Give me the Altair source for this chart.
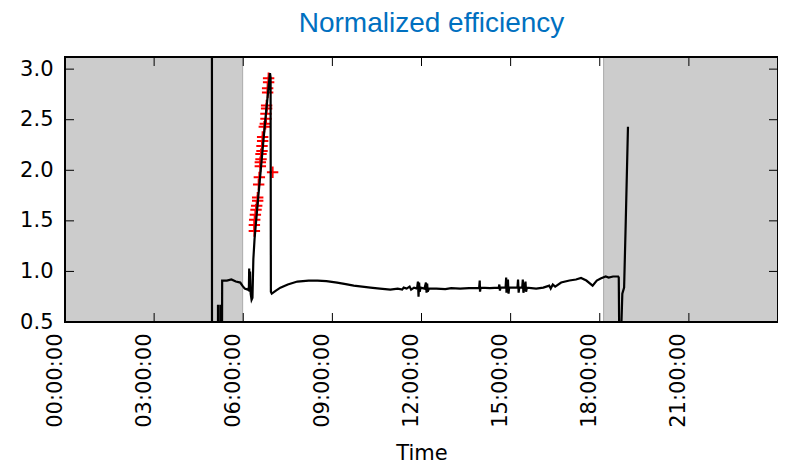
import altair as alt
import pandas as pd

# ---- data ----
hours = [4.94, 4.95, 5.14, 5.15, 5.16, 5.22, 5.23, 5.24, 5.27, 5.29, 5.45, 5.6, 5.75, 5.9, 5.97,
         6.05, 6.15, 6.19, 6.20, 6.21, 6.23, 6.25, 6.28, 6.31, 6.34, 6.38, 6.50, 6.62, 6.75, 6.90,
         6.92, 6.93, 6.96, 7.1, 7.25, 7.5, 7.82, 8.2, 8.5, 8.8, 9.16, 9.45, 9.72, 10.0, 10.28,
         10.6, 10.95, 11.2, 11.35, 11.4, 11.5, 11.6, 11.65, 11.75, 11.85, 11.88, 11.90, 11.92, 11.94,
         11.97, 12.1, 12.15, 12.17, 12.19, 12.21, 12.25, 12.5, 12.8, 13.0, 13.3, 13.6, 13.94, 13.96,
         13.97, 13.99, 14.3, 14.6, 14.62, 14.64, 14.66, 14.83, 14.85, 14.86, 14.88, 14.91, 14.93, 14.95,
         15.23, 15.25, 15.27, 15.29, 15.39, 15.41, 15.43, 15.47, 15.50, 15.52, 15.55, 15.86, 16.1,
         16.3, 16.35, 16.42, 16.5, 16.7, 16.98, 17.2, 17.37, 17.55, 17.76, 17.9, 18.03, 18.2, 18.3,
         18.45, 18.62, 18.64, 18.66, 18.70, 18.76, 18.82, 18.87, 18.95]
efficiency = [10.0, -2.0, -2.0, 0.67, -2.0, -2.0, 0.67, -2.0, -2.0, 0.91, 0.91, 0.92, 0.90, 0.89, 0.86,
              0.83, 0.82, 0.84, 1.03, 0.80, 1.00, 0.78, 0.72, 0.74, 1.12, 1.32, 1.72, 2.10, 2.52, 2.96,
              2.92, 0.80, 0.78, 0.81, 0.84, 0.87, 0.90, 0.91, 0.91, 0.905, 0.89, 0.875, 0.86, 0.85, 0.84,
              0.83, 0.82, 0.83, 0.82, 0.84, 0.83, 0.85, 0.82, 0.84, 0.83, 0.90, 0.75, 0.89, 0.80,
              0.84, 0.83, 0.89, 0.79, 0.88, 0.80, 0.83, 0.83, 0.825, 0.835, 0.83, 0.835, 0.835, 0.91,
              0.80, 0.84, 0.835, 0.84, 0.87, 0.81, 0.84, 0.84, 0.94, 0.79, 0.85, 0.92, 0.78, 0.84,
              0.84, 0.92, 0.79, 0.84, 0.84, 0.92, 0.79, 0.84, 0.90, 0.80, 0.84, 0.83, 0.84,
              0.86, 0.83, 0.87, 0.85, 0.89, 0.91, 0.92, 0.935, 0.91, 0.86, 0.91, 0.93, 0.95, 0.94,
              0.95, 0.95, 0.94, 0.2, 0.2, 0.78, 0.84, 1.43, 2.43]

marker_hours = [6.854, 6.854, 6.821, 6.821, 6.787, 6.787, 6.765, 6.765, 6.743, 6.709, 6.653, 6.653,
                6.631, 6.631, 6.598, 6.598, 6.575, 6.575, 6.988, 6.542, 6.519, 6.486, 6.486, 6.452,
                6.430, 6.408, 6.385, 6.374, 6.374]
marker_values = [2.91, 2.87, 2.81, 2.77, 2.64, 2.61, 2.56, 2.51, 2.46, 2.43, 2.33, 2.29,
                 2.24, 2.19, 2.16, 2.11, 2.08, 2.04, 1.98, 1.93, 1.86, 1.73, 1.70, 1.65,
                 1.61, 1.56, 1.51, 1.46, 1.40]

shade_start = [0.0, 18.13]
shade_end = [5.98, 24.0]

x_ticks = [0, 3, 6, 9, 12, 15, 18, 21]
y_ticks = [0.5, 1.0, 1.5, 2.0, 2.5, 3.0]

# ---- chart ----
W, H = 713, 265
TICK = 9
xs = alt.Scale(domain=[0, 24], nice=False, zero=False)
ys = alt.Scale(domain=[0.5, 3.12], nice=False, zero=False)

line_df = pd.DataFrame({"h": hours, "v": efficiency})
mk_df = pd.DataFrame({"h": marker_hours, "v": marker_values})
shade_df = pd.DataFrame({"h": shade_start, "h2": shade_end})
xt_df = pd.DataFrame({"h": x_ticks})
yt_df = pd.DataFrame({"v": y_ticks})
frame_df = pd.DataFrame({"k": [0]})

x_axis = alt.Axis(
    values=x_ticks,
    labelExpr="(datum.value < 10 ? '0' : '') + datum.value + ':00:00'",
    labelAngle=270, labelFontSize=21, labelFont="DejaVu Sans", labelColor="black",
    labelPadding=11, labelOffset=-10, ticks=False, domain=False, grid=False,
    title="Time", titleFont="DejaVu Sans", titleFontSize=21, titleFontWeight="normal",
    titleColor="black", titlePadding=15,
)
y_axis = alt.Axis(
    values=y_ticks, format=".1f", labelFontSize=21, labelFont="DejaVu Sans",
    labelColor="black", labelPadding=12, ticks=False, domain=False, grid=False, title=None,
)

X = alt.X("h:Q", scale=xs, axis=x_axis, title="Time")
Y = alt.Y("v:Q", scale=ys, axis=y_axis, title=None)

shade = alt.Chart(shade_df).mark_rect(color="#cccccc", stroke="#aaaaaa", strokeWidth=1).encode(
    x=X, x2="h2:Q", y=alt.value(0), y2=alt.value(H),
)

markers = alt.Chart(mk_df).mark_point(
    shape="M-1,0L1,0M0,-1L0,1", size=130, stroke="#ff0000", strokeWidth=2, filled=False,
    opacity=1, clip=True,
).encode(x=X, y=Y)

line = alt.Chart(line_df).mark_line(color="black", strokeWidth=2.2, clip=True).encode(
    x=X, y=Y, order=alt.Order("h:Q"),
)

tick_bottom = alt.Chart(xt_df).mark_rule(color="black", strokeWidth=1).encode(
    x=X, y=alt.value(H), y2=alt.value(H - TICK))
tick_top = alt.Chart(xt_df).mark_rule(color="black", strokeWidth=1).encode(
    x=X, y=alt.value(0), y2=alt.value(TICK))
tick_left = alt.Chart(yt_df).mark_rule(color="black", strokeWidth=1).encode(
    y=Y, x=alt.value(0), x2=alt.value(TICK))
tick_right = alt.Chart(yt_df).mark_rule(color="black", strokeWidth=1).encode(
    y=Y, x=alt.value(W - TICK), x2=alt.value(W))

frame = alt.Chart(frame_df).mark_rect(fill=None, stroke="black", strokeWidth=2).encode(
    x=alt.value(0), x2=alt.value(W), y=alt.value(0), y2=alt.value(H))

chart = alt.layer(
    shade, markers, line, tick_bottom, tick_top, tick_left, tick_right, frame
).properties(
    width=W, height=H,
    title=alt.TitleParams(
        "Normalized efficiency", color="#0070C0", fontSize=28, font="Liberation Sans",
        fontWeight="normal", anchor="middle", frame="group", dx=10, offset=18,
    ),
    autosize=alt.AutoSizeParams(type="none"),
    padding={"left": 57, "top": 49, "right": 0, "bottom": 146},
).configure_view(stroke=None)

chart.save("out.html", embed_options={"renderer": "svg", "actions": False})
